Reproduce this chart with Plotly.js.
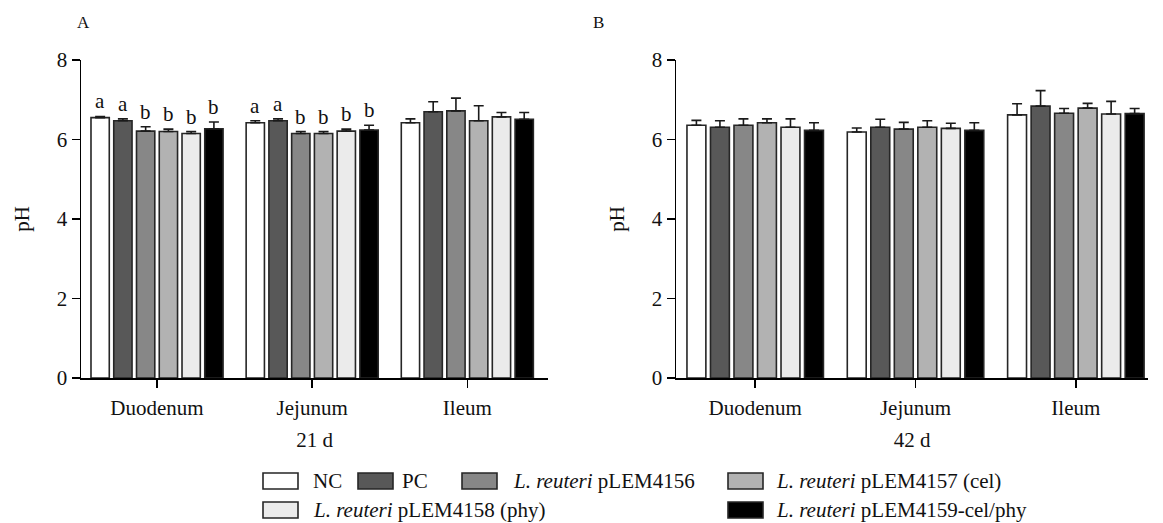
<!DOCTYPE html>
<html>
<head>
<meta charset="utf-8">
<script src="https://cdn.plot.ly/plotly-3.0.1.min.js"></script>
<style>html,body{margin:0;padding:0;background:#fff;}#chart{width:1163px;height:523px;}</style>
</head>
<body>
<div id="chart"></div>
<script>
// ---- data ----
const categories = ['Duodenum', 'Jejunum', 'Ileum'];
const seriesNames = ['NC', 'PC', '<i>L. reuteri</i> pLEM4156', '<i>L. reuteri</i> pLEM4157 (cel)',
                     '<i>L. reuteri</i> pLEM4158 (phy)', '<i>L. reuteri</i> pLEM4159-cel/phy'];

// 21 d
const nc21   = [6.55, 6.42, 6.42];  const nc21Err   = [0.03, 0.05, 0.10];
const pc21   = [6.47, 6.47, 6.70];  const pc21Err   = [0.05, 0.05, 0.25];
const l156_21 = [6.21, 6.15, 6.72]; const l156_21Err = [0.11, 0.05, 0.32];
const l157_21 = [6.20, 6.15, 6.47]; const l157_21Err = [0.06, 0.05, 0.38];
const l158_21 = [6.15, 6.21, 6.57]; const l158_21Err = [0.05, 0.05, 0.11];
const l159_21 = [6.27, 6.24, 6.51]; const l159_21Err = [0.17, 0.12, 0.17];

// 42 d
const nc42   = [6.36, 6.19, 6.62];  const nc42Err   = [0.12, 0.10, 0.28];
const pc42   = [6.31, 6.31, 6.84];  const pc42Err   = [0.16, 0.20, 0.39];
const l156_42 = [6.36, 6.26, 6.66]; const l156_42Err = [0.16, 0.17, 0.12];
const l157_42 = [6.42, 6.31, 6.79]; const l157_42Err = [0.10, 0.16, 0.12];
const l158_42 = [6.31, 6.28, 6.64]; const l158_42Err = [0.21, 0.13, 0.32];
const l159_42 = [6.23, 6.23, 6.65]; const l159_42Err = [0.19, 0.19, 0.13];

// significance letters (21 d)
const nc21Letters   = ['a', 'a', ''];
const pc21Letters   = ['a', 'a', ''];
const l156_21Letters = ['b', 'b', ''];
const l157_21Letters = ['b', 'b', ''];
const l158_21Letters = ['b', 'b', ''];
const l159_21Letters = ['b', 'b', ''];

const yTicks = [0, 2, 4, 6, 8];

// ---- style ----
const colors = ['#ffffff', '#585858', '#878787', '#b2b2b2', '#ebebeb', '#000000'];
const FONT = 'Liberation Serif, Times New Roman, serif';
const FS = 21;
const W = 1163, H = 523, MT = 60, MB = 145;
const plotH = H - MT - MB;
const px2x = p => p / W;
const px2y = p => (H - MB - p) / plotH;
const BARGAP = 0.12, BARGROUPGAP = 0.196;

const d21 = [nc21, pc21, l156_21, l157_21, l158_21, l159_21];
const e21 = [nc21Err, pc21Err, l156_21Err, l157_21Err, l158_21Err, l159_21Err];
const d42 = [nc42, pc42, l156_42, l157_42, l158_42, l159_42];
const e42 = [nc42Err, pc42Err, l156_42Err, l157_42Err, l158_42Err, l159_42Err];
const lt21 = [nc21Letters, pc21Letters, l156_21Letters, l157_21Letters, l158_21Letters, l159_21Letters];

const traces = [];
function addSet(vals, errs, xa, ya) {
  vals.forEach((v, i) => {
    traces.push({
      type: 'bar', x: categories, y: v, name: seriesNames[i],
      xaxis: xa, yaxis: ya, showlegend: false,
      marker: {color: colors[i], line: {color: '#262626', width: 1.6}},
      error_y: {type: 'data', symmetric: false, array: errs[i], arrayminus: errs[i].map(() => 0),
                color: '#1a1a1a', thickness: 1.6, width: 5},
      hoverinfo: 'skip'
    });
  });
}
addSet(d21, e21, 'x', 'y');
addSet(d42, e42, 'x2', 'y2');

const annotations = [];
// letters
const slot = (1 - BARGAP) / 6;
lt21.forEach((arr, i) => {
  arr.forEach((t, c) => {
    if (!t) return;
    annotations.push({
      xref: 'x', yref: 'y', x: c + (i - 2.5) * slot, y: d21[i][c] + e21[i][c],
      text: t, showarrow: false, yanchor: 'bottom', xanchor: 'center', yshift: 1,
      font: {family: FONT, size: FS, color: '#111'}
    });
  });
});
// panel labels
annotations.push({xref: 'paper', yref: 'paper', x: px2x(83), y: px2y(23), text: 'A', showarrow: false,
  xanchor: 'center', yanchor: 'middle', font: {family: FONT, size: 17, color: '#111'}});
annotations.push({xref: 'paper', yref: 'paper', x: px2x(598), y: px2y(23), text: 'B', showarrow: false,
  xanchor: 'center', yanchor: 'middle', font: {family: FONT, size: 17, color: '#111'}});

// legend (manual grid)
const legBoxX = [263, 358, 462, 728, 263, 728];
const legTextX = [312, 401, 512, 775, 312, 775];
const legY = [481, 481, 481, 481, 510, 510];
const shapes = [];
seriesNames.forEach((n, i) => {
  shapes.push({type: 'rect', xref: 'paper', yref: 'paper',
    x0: px2x(legBoxX[i]), x1: px2x(legBoxX[i] + 35), y0: px2y(legY[i] + 8), y1: px2y(legY[i] - 8),
    fillcolor: colors[i], line: {color: '#262626', width: 1.6}});
  annotations.push({xref: 'paper', yref: 'paper', x: px2x(legTextX[i]), y: px2y(legY[i]),
    text: n, showarrow: false, xanchor: 'left', yanchor: 'middle', borderpad: 0,
    font: {family: FONT, size: FS, color: '#111'}});
});

function xAxis(dom, rng, title, anchor) {
  return {domain: dom, anchor: anchor, type: 'category', range: rng,
    showline: true, linecolor: '#000', linewidth: 1.5, ticks: 'outside', ticklen: 8, tickwidth: 1.5,
    tickcolor: '#000', tickfont: {family: FONT, size: FS, color: '#111'}, ticklabelstandoff: 2,
    showgrid: false, zeroline: false, fixedrange: true,
    title: {text: title, standoff: 13, font: {family: FONT, size: FS, color: '#111'}}};
}
function yAxis(anchor) {
  return {domain: [0, 1], anchor: anchor, range: [0, 8], tickvals: yTicks, ticktext: yTicks.map(String),
    showline: true, linecolor: '#000', linewidth: 1.5, ticks: 'outside', ticklen: 8, tickwidth: 1.5,
    tickcolor: '#000', tickfont: {family: FONT, size: FS, color: '#111'},
    showgrid: false, zeroline: false, fixedrange: true,
    title: {text: 'pH', standoff: 21, font: {family: FONT, size: FS, color: '#111'}}};
}

const layout = {
  width: W, height: H, margin: {l: 0, r: 0, t: MT, b: MB},
  paper_bgcolor: '#fff', plot_bgcolor: '#fff',
  barmode: 'group', bargap: BARGAP, bargroupgap: BARGROUPGAP,
  showlegend: false,
  xaxis: xAxis([px2x(81), px2x(548)], [-0.49, 2.52], '21 d', 'y'),
  yaxis: yAxis('x'),
  xaxis2: xAxis([px2x(676), px2x(1148)], [-0.494, 2.45], '42 d', 'y2'),
  yaxis2: yAxis('x2'),
  annotations: annotations,
  shapes: shapes
};

Plotly.newPlot('chart', traces, layout, {staticPlot: true, displayModeBar: false});
</script>
</body>
</html>
